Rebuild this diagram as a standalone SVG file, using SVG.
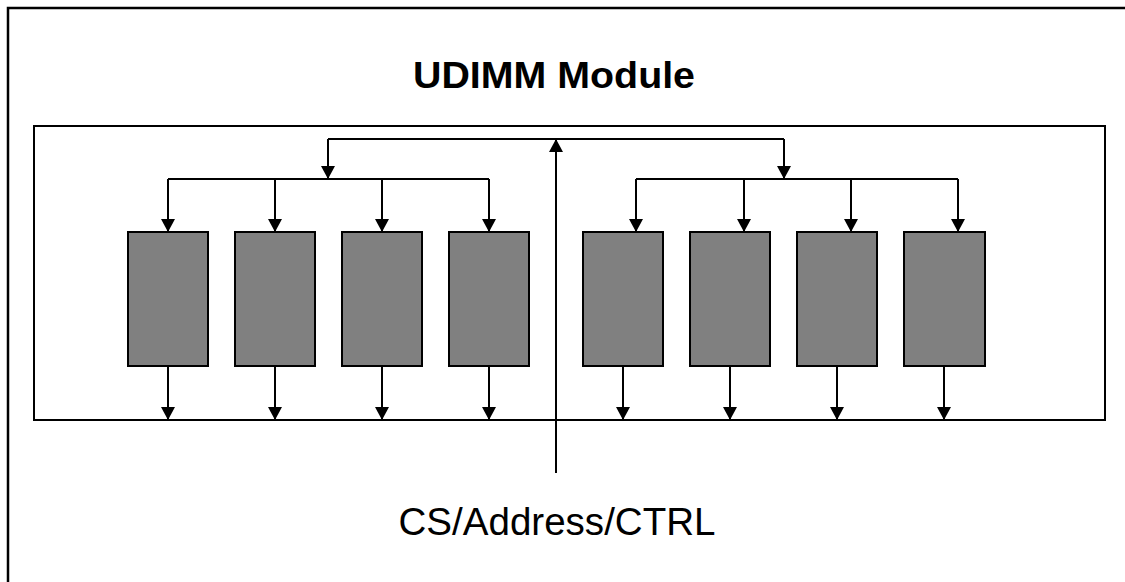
<svg xmlns="http://www.w3.org/2000/svg" width="1125" height="582" viewBox="0 0 1125 582">
<style>
.chip{fill:#808080;stroke:#000;stroke-width:2}
.frame{fill:none;stroke:#000;stroke-width:2}
.wire{fill:none;stroke:#000;stroke-width:2}
.arr{marker-end:url(#ah)}
.lbl{font-family:"Liberation Sans",Arial,sans-serif;fill:#000;text-anchor:middle}
</style>
<defs>
<marker id="ah" markerUnits="userSpaceOnUse" markerWidth="15" markerHeight="15" refX="13" refY="7" orient="auto">
<path d="M0,0 L13,7 L0,14 z" fill="#000"/>
</marker>
</defs>
<rect x="8" y="8" width="1130" height="590" fill="#fff" stroke="#000" stroke-width="2.5"/>
<text class="lbl" x="554" y="88" font-size="36" font-weight="bold" textLength="282" lengthAdjust="spacingAndGlyphs">UDIMM Module</text>
<g id="module"><rect class="frame" x="34" y="126" width="1071" height="294"/></g>
<g id="chips">
<g id="chip1"><rect class="chip" x="128" y="232" width="80" height="134"/></g>
<g id="chip2"><rect class="chip" x="235" y="232" width="80" height="134"/></g>
<g id="chip3"><rect class="chip" x="342" y="232" width="80" height="134"/></g>
<g id="chip4"><rect class="chip" x="449" y="232" width="80" height="134"/></g>
<g id="chip5"><rect class="chip" x="583" y="232" width="80" height="134"/></g>
<g id="chip6"><rect class="chip" x="690" y="232" width="80" height="134"/></g>
<g id="chip7"><rect class="chip" x="797" y="232" width="80" height="134"/></g>
<g id="chip8"><rect class="chip" x="904" y="232" width="81" height="134"/></g>
</g>
<g id="connectors">
<path class="wire" d="M328,139 H784"/>
<path class="wire arr" d="M556,473 V139"/>
<path class="wire arr" d="M328,139 V179"/>
<path class="wire arr" d="M784,139 V179"/>
<path class="wire" d="M168,179 H489"/>
<path class="wire" d="M636,179 H958"/>
<path class="wire arr" d="M168,179 V232"/>
<path class="wire arr" d="M275,179 V232"/>
<path class="wire arr" d="M382,179 V232"/>
<path class="wire arr" d="M489,179 V232"/>
<path class="wire arr" d="M636,179 V232"/>
<path class="wire arr" d="M744,179 V232"/>
<path class="wire arr" d="M851,179 V232"/>
<path class="wire arr" d="M958,179 V232"/>
<path class="wire arr" d="M168,366 V420"/>
<path class="wire arr" d="M275,366 V420"/>
<path class="wire arr" d="M382,366 V420"/>
<path class="wire arr" d="M489,366 V420"/>
<path class="wire arr" d="M623,366 V420"/>
<path class="wire arr" d="M730,366 V420"/>
<path class="wire arr" d="M837,366 V420"/>
<path class="wire arr" d="M944,366 V420"/>
</g>
<text class="lbl" x="557" y="535" font-size="39" textLength="317" lengthAdjust="spacingAndGlyphs">CS/Address/CTRL</text>
</svg>
